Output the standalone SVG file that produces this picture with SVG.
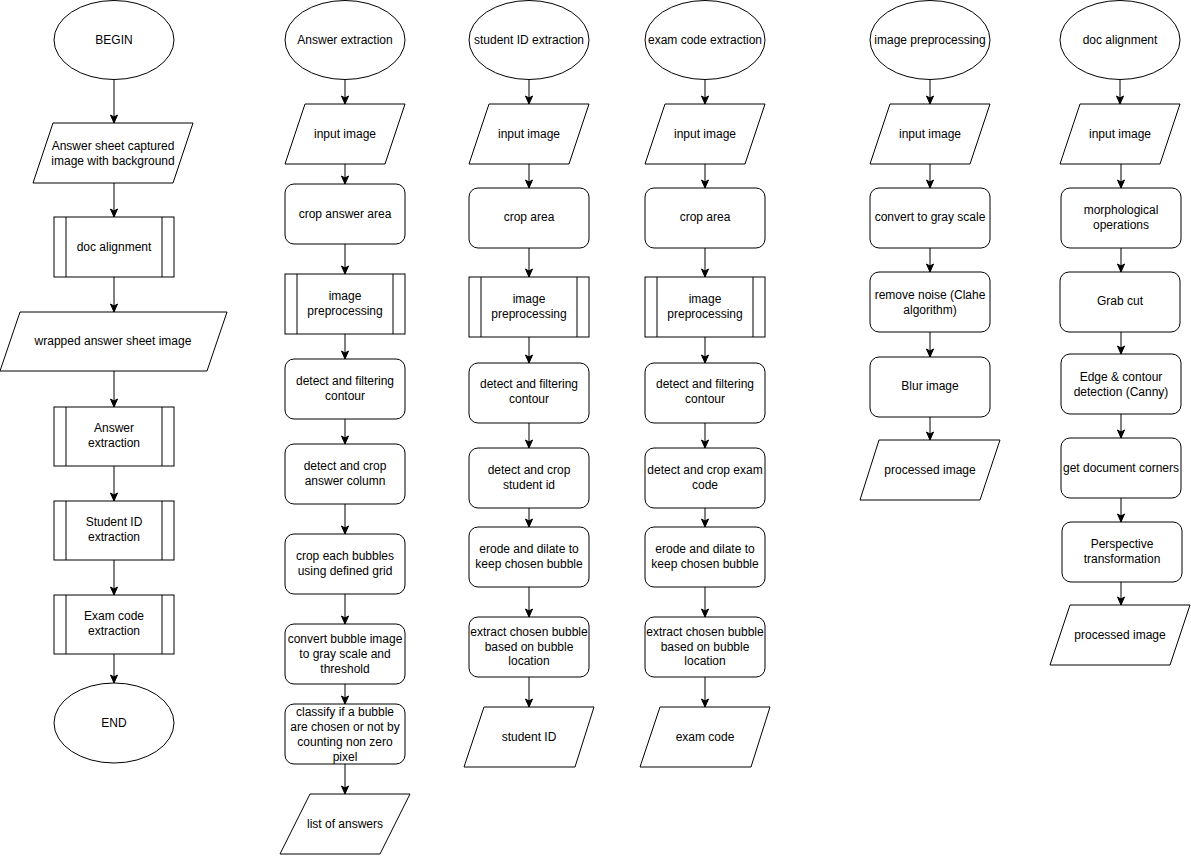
<svg xmlns="http://www.w3.org/2000/svg" width="1191" height="863" viewBox="0 0 1191 863">
<style>
.s{fill:#fff;stroke:#000;stroke-width:1}
.l{fill:none;stroke:#000;stroke-width:1}
text{font-family:"Liberation Sans",Arial,sans-serif;font-size:12px;fill:#000;text-anchor:middle}
</style>
<defs>
<marker id="ah" markerUnits="userSpaceOnUse" markerWidth="10" markerHeight="10" viewBox="0 0 10 10" refX="9" refY="5" orient="auto">
<path d="M1,1.5 L9,5 L1,8.5 L3,5 Z" fill="#000" stroke="#000" stroke-width="1"/>
</marker>
</defs>
<rect width="1191" height="863" fill="#fff"/>
<g id="connectors" class="l" marker-end="url(#ah)">
<path d="M114,80V123"/><path d="M114,183V217"/><path d="M114,277V312"/><path d="M114,371V407"/><path d="M114,466V501"/><path d="M114,560V595"/><path d="M114,654V683"/>
<path d="M345,80V104"/><path d="M345,164V184"/><path d="M345,244V274"/><path d="M345,334V359"/><path d="M345,419V444"/><path d="M345,504V534"/><path d="M345,594V624"/><path d="M345,684V704"/><path d="M345,764V794"/>
<path d="M529,80V104"/><path d="M529,164V188"/><path d="M529,248V277"/><path d="M529,337V363"/><path d="M529,423V448"/><path d="M529,508V527"/><path d="M529,587V617"/><path d="M529,677V707"/>
<path d="M705,80V104"/><path d="M705,164V188"/><path d="M705,248V277"/><path d="M705,337V363"/><path d="M705,423V448"/><path d="M705,508V527"/><path d="M705,587V617"/><path d="M705,677V707"/>
<path d="M930,80V104"/><path d="M930,164V188"/><path d="M930,248V272"/><path d="M930,332V357"/><path d="M930,417V440"/>
<path d="M1120,80V104"/><path d="M1121,164V188"/><path d="M1121,248V272"/><path d="M1121,332V354"/><path d="M1121,414V438"/><path d="M1121,498V522"/><path d="M1121,582V605"/>
</g>
<!-- column 1 -->
<g id="begin"><ellipse class="s" cx="114" cy="40" rx="60" ry="39.5"/><text x="114" y="44">BEGIN</text></g>
<g id="captured"><path class="s" d="M53,123H193L173,183H33Z"/><text x="113" y="150">Answer sheet captured</text><text x="113" y="165">image with background</text></g>
<g id="docalign-call"><rect class="s" x="54" y="217" width="120" height="60"/><path class="l" d="M66,217V277M162,217V277"/><text x="114" y="251">doc alignment</text></g>
<g id="wrapped"><path class="s" d="M20,312H227L207,371H0Z"/><text x="113" y="345">wrapped answer sheet image</text></g>
<g id="answer-call"><rect class="s" x="54" y="407" width="120" height="59"/><path class="l" d="M66,407V466M162,407V466"/><text x="114" y="432">Answer</text><text x="114" y="447">extraction</text></g>
<g id="student-call"><rect class="s" x="54" y="501" width="120" height="59"/><path class="l" d="M66,501V560M162,501V560"/><text x="114" y="526">Student ID</text><text x="114" y="541">extraction</text></g>
<g id="exam-call"><rect class="s" x="54" y="595" width="120" height="59"/><path class="l" d="M66,595V654M162,595V654"/><text x="114" y="620">Exam code</text><text x="114" y="635">extraction</text></g>
<g id="end"><ellipse class="s" cx="114" cy="723" rx="60" ry="40"/><text x="114" y="727">END</text></g>
<!-- column 2 -->
<g id="ae-start"><ellipse class="s" cx="345" cy="40" rx="60" ry="39.5"/><text x="345" y="44">Answer extraction</text></g>
<g id="ae-input"><path class="s" d="M305,104H405L385,164H285Z"/><text x="345" y="138">input image</text></g>
<g id="ae-crop"><rect class="s" x="285" y="184" width="120" height="60" rx="9"/><text x="345" y="218">crop answer area</text></g>
<g id="ae-pre"><rect class="s" x="285" y="274" width="120" height="60"/><path class="l" d="M297,274V334M393,274V334"/><text x="345" y="300">image</text><text x="345" y="315">preprocessing</text></g>
<g id="ae-contour"><rect class="s" x="285" y="359" width="120" height="60" rx="9"/><text x="345" y="385">detect and filtering</text><text x="345" y="400">contour</text></g>
<g id="ae-column"><rect class="s" x="285" y="444" width="120" height="60" rx="9"/><text x="345" y="470">detect and crop</text><text x="345" y="485">answer column</text></g>
<g id="ae-bubbles"><rect class="s" x="285" y="534" width="120" height="60" rx="9"/><text x="345" y="560">crop each bubbles</text><text x="345" y="575">using defined grid</text></g>
<g id="ae-convert"><rect class="s" x="285" y="624" width="120" height="60" rx="9"/><text x="345" y="643">convert bubble image</text><text x="345" y="658">to gray scale and</text><text x="345" y="673">threshold</text></g>
<g id="ae-classify"><rect class="s" x="285" y="704" width="120" height="60" rx="9"/><text x="345" y="716">classify if a bubble</text><text x="345" y="731">are chosen or not by</text><text x="345" y="746">counting non zero</text><text x="345" y="761">pixel</text></g>
<g id="ae-list"><path class="s" d="M310,794H410L380,854H280Z"/><text x="345" y="828">list of answers</text></g>
<!-- column 3 -->
<g id="si-start"><ellipse class="s" cx="529" cy="40" rx="60" ry="39.5"/><text x="529" y="44">student ID extraction</text></g>
<g id="si-input"><path class="s" d="M489,104H589L569,164H469Z"/><text x="529" y="138">input image</text></g>
<g id="si-crop"><rect class="s" x="469" y="188" width="120" height="60" rx="9"/><text x="529" y="221">crop area</text></g>
<g id="si-pre"><rect class="s" x="469" y="277" width="120" height="60"/><path class="l" d="M481,277V337M577,277V337"/><text x="529" y="303">image</text><text x="529" y="318">preprocessing</text></g>
<g id="si-contour"><rect class="s" x="469" y="363" width="120" height="60" rx="9"/><text x="529" y="388">detect and filtering</text><text x="529" y="403">contour</text></g>
<g id="si-detect"><rect class="s" x="469" y="448" width="120" height="60" rx="9"/><text x="529" y="474">detect and crop</text><text x="529" y="489">student id</text></g>
<g id="si-erode"><rect class="s" x="469" y="527" width="120" height="60" rx="9"/><text x="529" y="553">erode and dilate to</text><text x="529" y="568">keep chosen bubble</text></g>
<g id="si-extract"><rect class="s" x="469" y="617" width="120" height="60" rx="9"/><text x="529" y="636">extract chosen bubble</text><text x="529" y="651">based on bubble</text><text x="529" y="665">location</text></g>
<g id="si-out"><path class="s" d="M484,707H594L575,767H464Z"/><text x="529" y="741">student ID</text></g>
<!-- column 4 -->
<g id="ec-start"><ellipse class="s" cx="705" cy="40" rx="60" ry="39.5"/><text x="705" y="44">exam code extraction</text></g>
<g id="ec-input"><path class="s" d="M665,104H765L745,164H645Z"/><text x="705" y="138">input image</text></g>
<g id="ec-crop"><rect class="s" x="645" y="188" width="120" height="60" rx="9"/><text x="705" y="221">crop area</text></g>
<g id="ec-pre"><rect class="s" x="645" y="277" width="120" height="60"/><path class="l" d="M657,277V337M753,277V337"/><text x="705" y="303">image</text><text x="705" y="318">preprocessing</text></g>
<g id="ec-contour"><rect class="s" x="645" y="363" width="120" height="60" rx="9"/><text x="705" y="388">detect and filtering</text><text x="705" y="403">contour</text></g>
<g id="ec-detect"><rect class="s" x="645" y="448" width="120" height="60" rx="9"/><text x="705" y="474">detect and crop exam</text><text x="705" y="489">code</text></g>
<g id="ec-erode"><rect class="s" x="645" y="527" width="120" height="60" rx="9"/><text x="705" y="553">erode and dilate to</text><text x="705" y="568">keep chosen bubble</text></g>
<g id="ec-extract"><rect class="s" x="645" y="617" width="120" height="60" rx="9"/><text x="705" y="636">extract chosen bubble</text><text x="705" y="651">based on bubble</text><text x="705" y="665">location</text></g>
<g id="ec-out"><path class="s" d="M660,707H770L751,767H640Z"/><text x="705" y="741">exam code</text></g>
<!-- column 5 -->
<g id="ip-start"><ellipse class="s" cx="930" cy="40" rx="60" ry="39.5"/><text x="930" y="44">image preprocessing</text></g>
<g id="ip-input"><path class="s" d="M890,104H990L970,164H870Z"/><text x="930" y="138">input image</text></g>
<g id="ip-gray"><rect class="s" x="870" y="188" width="120" height="60" rx="9"/><text x="930" y="221">convert to gray scale</text></g>
<g id="ip-noise"><rect class="s" x="870" y="272" width="120" height="60" rx="9"/><text x="930" y="299">remove noise (Clahe</text><text x="930" y="314">algorithm)</text></g>
<g id="ip-blur"><rect class="s" x="870" y="357" width="120" height="60" rx="9"/><text x="930" y="390">Blur image</text></g>
<g id="ip-out"><path class="s" d="M879,440H1000L980,500H860Z"/><text x="930" y="474">processed image</text></g>
<!-- column 6 -->
<g id="da-start"><ellipse class="s" cx="1120" cy="40" rx="60" ry="39.5"/><text x="1120" y="44">doc alignment</text></g>
<g id="da-input"><path class="s" d="M1080,104H1180L1160,164H1060Z"/><text x="1120" y="138">input image</text></g>
<g id="da-morph"><rect class="s" x="1061" y="188" width="120" height="60" rx="9"/><text x="1121" y="214">morphological</text><text x="1121" y="229">operations</text></g>
<g id="da-grab"><rect class="s" x="1060" y="272" width="120" height="60" rx="9"/><text x="1120" y="305">Grab cut</text></g>
<g id="da-edge"><rect class="s" x="1061" y="354" width="120" height="60" rx="9"/><text x="1121" y="381">Edge &amp; contour</text><text x="1121" y="396">detection (Canny)</text></g>
<g id="da-corners"><rect class="s" x="1061" y="438" width="120" height="60" rx="9"/><text x="1121" y="472">get document corners</text></g>
<g id="da-persp"><rect class="s" x="1062" y="522" width="120" height="60" rx="9"/><text x="1122" y="548">Perspective</text><text x="1122" y="563">transformation</text></g>
<g id="da-out"><path class="s" d="M1070,605H1190L1170,665H1050Z"/><text x="1120" y="639">processed image</text></g>
</svg>
